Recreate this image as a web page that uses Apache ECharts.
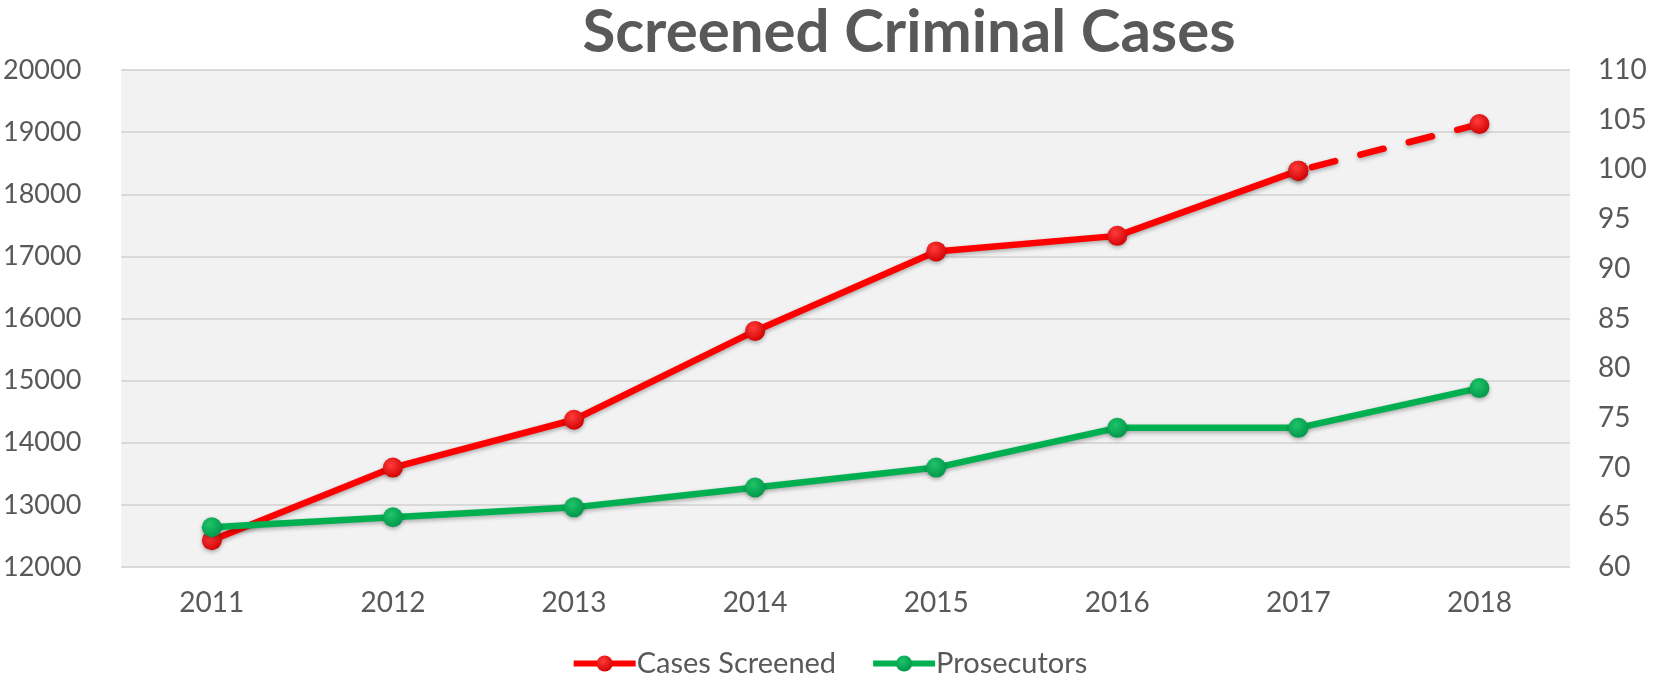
<!DOCTYPE html>
<html><head><meta charset="utf-8">
<script src="https://cdn.jsdelivr.net/npm/echarts@6/dist/echarts.min.js"></script>
<style>html,body{margin:0;padding:0;background:#fff}#c{width:1658px;height:681px}</style>
</head><body><div id="c"></div>
<script>
const years = ['2011','2012','2013','2014','2015','2016','2017','2018'];
const casesScreened = [12430, 13600, 14370, 15800, 17080, 17330, 18380, 19130];
const prosecutors = [64, 65, 66, 68, 70, 74, 74, 78];
const projectedFrom = 6; // index where the dashed (projected) part begins

const solidCases = casesScreened.map((v, i) => i <= projectedFrom ? v : null);
const dashedCases = casesScreened.map((v, i) => i >= projectedFrom ? v : null);

const font = 'Lato, "Open Sans", sans-serif';
const txt = '#595959';
function ball(c1, c2) {
  return { type: 'radial', x: 0.4, y: 0.35, r: 0.7,
    colorStops: [{ offset: 0, color: c1 }, { offset: 1, color: c2 }] };
}
const redBall = ball('#ff3b3b', '#d00000');
const greenBall = ball('#1fc468', '#00954a');
const shadow = { shadowColor: 'rgba(0,0,0,0.3)', shadowBlur: 4, shadowOffsetY: 2 };

const chart = echarts.init(document.getElementById('c'));
chart.setOption({
  animation: false,
  title: { text: 'Screened Criminal Cases', left: 904, top: -2, textAlign: 'center',
    textStyle: { fontFamily: font, fontWeight: 'bold', fontSize: 60, color: txt } },
  legend: { bottom: -2, left: 'center', itemWidth: 62, itemHeight: 20, itemGap: 34,
    data: ['Cases Screened', 'Prosecutors'],
    lineStyle: { width: 6 },
    textStyle: { fontFamily: font, fontSize: 29, color: txt, padding: [0, 0, 0, -4] } },
  grid: { left: 121, right: 88, top: 70, bottom: 114, show: true,
    backgroundColor: '#f2f2f2', borderWidth: 0 },
  xAxis: { type: 'category', data: years, boundaryGap: true,
    axisLine: { show: false }, axisTick: { show: false },
    axisLabel: { fontFamily: font, fontSize: 28, color: txt, margin: 22 } },
  yAxis: [
    { type: 'value', min: 12000, max: 20000, interval: 1000,
      axisLine: { show: false }, axisTick: { show: false },
      splitLine: { lineStyle: { color: '#d9d9d9', width: 2 } },
      axisLabel: { fontFamily: font, fontSize: 27, color: txt, margin: 40, formatter: v => String(v) } },
    { type: 'value', min: 60, max: 110, interval: 5, position: 'right',
      axisLine: { show: false }, axisTick: { show: false }, splitLine: { show: false },
      axisLabel: { fontFamily: font, fontSize: 28, color: txt, margin: 28, formatter: v => String(v) } }
  ],
  series: [
    { name: 'Cases Screened', type: 'line', yAxisIndex: 0, data: solidCases,
      symbol: 'circle', symbolSize: 20, z: 3,
      lineStyle: Object.assign({ color: '#ff0000', width: 6.5 }, shadow),
      itemStyle: Object.assign({ color: redBall }, shadow) },
    { name: 'Cases Screened', type: 'line', yAxisIndex: 0, data: dashedCases,
      symbol: 'circle', symbolSize: 20, z: 2,
      lineStyle: Object.assign({ color: '#ff0000', width: 6.5, type: [24, 26], cap: 'round', dashOffset: -14 }, shadow),
      itemStyle: Object.assign({ color: redBall }, shadow) },
    { name: 'Prosecutors', type: 'line', yAxisIndex: 1, data: prosecutors,
      symbol: 'circle', symbolSize: 20, z: 4,
      lineStyle: Object.assign({ color: '#00b050', width: 6.5 }, shadow),
      itemStyle: Object.assign({ color: greenBall }, shadow) }
  ]
});
</script></body></html>
